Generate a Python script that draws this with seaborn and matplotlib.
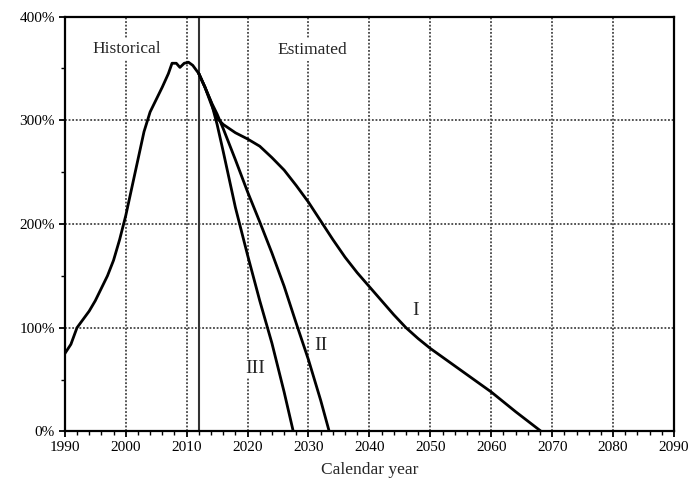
import matplotlib
matplotlib.use("Agg")
import matplotlib.pyplot as plt
import seaborn as sns
import numpy as np
import pandas as pd
from matplotlib.ticker import FuncFormatter, MultipleLocator

# ---- data ----
hist_years = [1990, 1991, 1992, 1993, 1994, 1995, 1996, 1997, 1998, 1999,
              2000, 2001, 2002, 2003, 2004, 2005, 2006, 2007, 2007.6, 2008.3,
              2008.9, 2009.6, 2010.3, 2011, 2012]
hist_vals = [75, 84, 100, 108, 116, 126, 138, 150, 165, 185,
             208, 235, 262, 289, 308, 320, 332, 345, 355, 355,
             351, 355, 356, 353, 345]

s1_years = [2012, 2013, 2014, 2015, 2016, 2017, 2018, 2020, 2022, 2024, 2026, 2028,
            2030, 2032, 2034, 2036, 2038, 2040, 2042, 2044, 2046, 2048, 2050,
            2055, 2060, 2064, 2068.2]
s1_vals = [345, 332, 316, 302, 296, 292, 288, 282, 275, 264, 252, 237,
           221, 203, 185, 168, 153, 139.5, 126, 112.5, 100, 89.5, 80,
           59, 38, 19, 0]

s2_years = [2012, 2013, 2014, 2015, 2016, 2018, 2020, 2022, 2024, 2026, 2028,
            2030, 2032, 2033.4]
s2_vals = [345, 332, 318, 306, 292, 262, 231, 202, 172, 140, 104, 69, 30, 0]

s3_years = [2012, 2013, 2014, 2015, 2016, 2018, 2020, 2022, 2024, 2026, 2027.5]
s3_vals = [345, 332, 318, 296, 270, 216, 170, 126, 85, 38, 0]

x_ticks = [1990, 2000, 2010, 2020, 2030, 2040, 2050, 2060, 2070, 2080, 2090]
y_ticks = [0, 100, 200, 300, 400]
boundary_year = 2012

sns.set_theme(style="ticks")
plt.rcParams['font.family'] = ['Liberation Serif', 'DejaVu Serif']

fig = plt.figure(figsize=(6.91, 4.84), dpi=100)
ax = fig.add_axes([0.0938, 0.1087, 0.9754 - 0.0938, 0.9657 - 0.1087])

ax.grid(True, which='major', linestyle=(0, (1, 1)), linewidth=1.3, color='#444444')
ax.set_axisbelow(True)

ax.axvline(boundary_year, color='#333333', linewidth=1.5, zorder=2)

for yrs, vals in [(hist_years, hist_vals), (s1_years, s1_vals),
                  (s2_years, s2_vals), (s3_years, s3_vals)]:
    sns.lineplot(x=yrs, y=vals, ax=ax, color='black', linewidth=2.0, sort=False,
                 estimator=None, zorder=3, solid_joinstyle='round',
                 solid_capstyle='round')

ax.set_xlim(1990, 2090)
ax.set_ylim(0, 400)
ax.set_xticks(x_ticks)
ax.set_yticks(y_ticks)
ax.xaxis.set_minor_locator(MultipleLocator(2))
ax.yaxis.set_minor_locator(MultipleLocator(50))
ax.yaxis.set_major_formatter(FuncFormatter(lambda v, p: f"{int(v)}%"))
ax.tick_params(axis='both', which='major', direction='out', length=4, width=1.3,
               labelsize=11, colors='black', pad=3)
ax.tick_params(axis='both', which='minor', direction='out', length=3, width=1.0,
               colors='black')
for sp in ax.spines.values():
    sp.set_visible(True)
    sp.set_linewidth(1.6)
    sp.set_color('black')

ax.set_xlabel("Calendar year", fontsize=12.5, labelpad=6)
ax.set_ylabel("")

box = dict(facecolor='white', edgecolor='none', pad=2)
ax.text(2000.2, 369, "Historical", ha='center', va='center', fontsize=12.5, bbox=box, zorder=4)
ax.text(2030.6, 368, "Estimated", ha='center', va='center', fontsize=12.5, bbox=box, zorder=4)
ax.text(2047.5, 117, "I", ha='center', va='center', fontsize=14, zorder=4)
ax.text(2032.1, 83, "II", ha='center', va='center', fontsize=14, zorder=4)
ax.text(2021.2, 61, "III", ha='center', va='center', fontsize=14,
        bbox=dict(facecolor='white', edgecolor='none', pad=0.5), zorder=4)

fig.savefig("out.png", dpi=100)
